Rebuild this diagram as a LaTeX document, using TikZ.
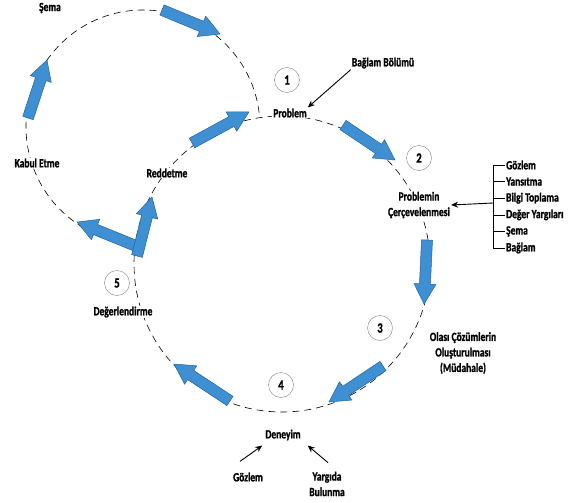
\documentclass[tikz,border=0pt]{standalone}
\usepackage{fontspec}
\setmainfont{Carlito}[FakeStretch=0.76, BoldFeatures={FakeBold=1.3}]
\usetikzlibrary{calc,arrows.meta}

\definecolor{arrowblue}{HTML}{3E90D2}
\definecolor{arrowedge}{HTML}{23649C}

\tikzset{
  lbl/.style={font=\bfseries\fontsize{12.5}{15.5}\selectfont, align=center, inner sep=1pt},
  onpath/.style={lbl, fill=white},
  num/.style={draw=gray, circle, minimum size=25pt, inner sep=0pt, font=\bfseries\fontsize{14}{14}\selectfont},
  loopline/.style={dash pattern=on 7pt off 5pt, line width=0.6pt},
  pointer/.style={-{Stealth[length=7pt,width=6pt]}, line width=0.9pt},
  bigarrow/.style={fill=arrowblue, draw=arrowedge, line width=0.5pt, line join=miter}
}

% block arrow from #1 to #2
\newcommand{\blockarrow}[2]{%
  \path (#2) coordinate (tip) ($(#2)!20pt!(#1)$) coordinate (base);
  \filldraw[bigarrow] ($(#1)!5.5pt!90:(#2)$) -- ($(base)!5.5pt!90:(tip)$)
    -- ($(base)!11pt!90:(tip)$) -- (tip) -- ($(base)!11pt!-90:(tip)$)
    -- ($(base)!5.5pt!-90:(tip)$) -- ($(#1)!5.5pt!-90:(#2)$) -- cycle;
}

\begin{document}
\begin{tikzpicture}[x=1pt,y=1pt]
\clip (0,0) rectangle (570,-503);

% the two cycles
\coordinate (big) at (282,-264);
\coordinate (small) at (143,-127);
\draw[loopline] (big) circle[radius=148pt];
\draw[loopline] ($(small)+(7:117pt)$) arc[start angle=7, end angle=266, radius=117pt];

% blue arrows
\coordinate (a1s) at (28,-118);  \coordinate (a1e) at (47,-60);
\coordinate (a2s) at (162,-10);  \coordinate (a2e) at (220,-34);
\coordinate (a3s) at (192,-143); \coordinate (a3e) at (249,-112);
\coordinate (a4s) at (343,-125); \coordinate (a4e) at (395,-160);
\coordinate (a5s) at (427,-240); \coordinate (a5e) at (424,-304);
\coordinate (a6s) at (383,-366); \coordinate (a6e) at (329,-402);
\coordinate (a7s) at (230,-401); \coordinate (a7e) at (174,-364);
\coordinate (a8s) at (136,-246); \coordinate (a8e) at (77,-222);
\coordinate (a9s) at (137,-256); \coordinate (a9e) at (152,-197);
\foreach \i in {1,...,9}
  \blockarrow{a\i s}{a\i e};

% step numbers
\node[num] (1) at (287,-80) {1};
\node[num] (2) at (419,-158) {2};
\node[num] (3) at (380,-328) {3};
\node[num] (4) at (281,-385) {4};
\node[num] (5) at (117,-283) {5};

% labels
\node[onpath] (problem) at (290,-113) {Problem};
\node[lbl] (context) at (383,-63) {Bağlam Bölümü};
\node[onpath] (framing) at (419,-205) {Problemin\\Çerçevelenmesi};
\node[lbl] (solutions) at (463,-353) {Olası Çözümlerin\\Oluşturulması\\(Müdahale)};
\node[lbl] (experience) at (283,-435) {Deneyim};
\node[lbl] (obs) at (248,-477) {Gözlem};
\node[lbl] (judge) at (327,-484) {Yargıda\\Bulunma};
\node[onpath] (evaluate) at (123,-312) {Değerlendirme};
\node[onpath] (reject) at (167,-173) {Reddetme};
\node[onpath] (accept) at (37,-163) {Kabul Etme};
\node[lbl] (schema) at (50,-8) {Şema};

\draw[pointer] (context.south west) -- (problem.north east);
\draw[pointer] ([shift={(-8,10)}]obs.north) -- ([shift={(-2,-4)}]experience.south west);
\draw[pointer] ([shift={(1,8)}]judge.north) -- ([shift={(6,-4)}]experience.south east);

% framing sources
\coordinate (bt) at (493,-165);
\coordinate (bb) at (493,-248);
\draw[line width=0.6pt] (bt) -- (bb);
\foreach \item [count=\i] in {Gözlem, Yansıtma, Bilgi Toplama, Değer Yargıları, Şema, Bağlam}
{
  \node[lbl, anchor=west] (src\i) at (505,{-165-(\i-1)*16.6}) {\item};
  \draw[line width=0.6pt] (493,{-165-(\i-1)*16.6}) -- (src\i.west);
}
\coordinate (bm) at (493,-203);
\draw[pointer] (bm) -- (framing.east);
\end{tikzpicture}
\end{document}
